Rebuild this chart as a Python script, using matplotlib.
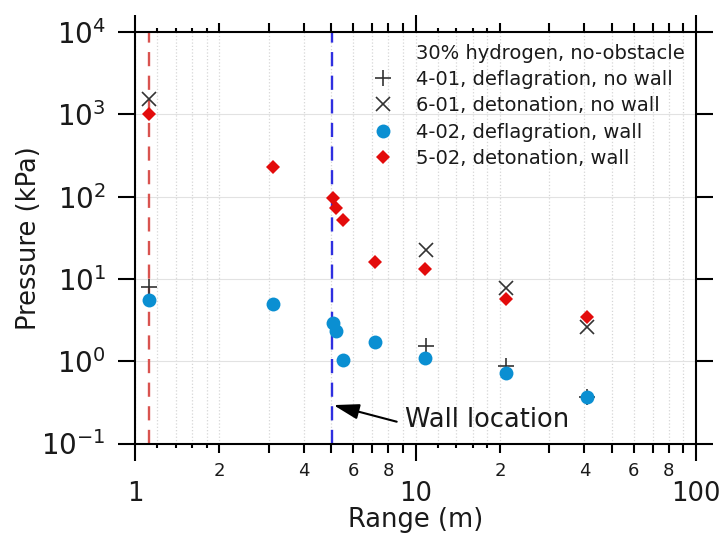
import math
import matplotlib
matplotlib.use("Agg")
import matplotlib.pyplot as plt
from matplotlib.lines import Line2D
from matplotlib.ticker import FixedLocator, FixedFormatter, NullLocator

# ---------------- data ----------------
range_4_01 = [1.12, 10.9, 21.0, 41.0]
press_4_01 = [7.9, 1.53, 0.875, 0.37]

range_6_01 = [1.12, 10.9, 21.0, 41.0]
press_6_01 = [1520, 22.4, 7.7, 2.58]

range_4_02 = [1.12, 3.10, 5.09, 5.19, 5.50, 7.17, 10.8, 21.0, 41.0]
press_4_02 = [5.54, 4.95, 2.94, 2.33, 1.03, 1.73, 1.08, 0.71, 0.364]

range_5_02 = [1.12, 3.10, 5.09, 5.19, 5.53, 7.17, 10.8, 21.0, 41.0]
press_5_02 = [1000, 227, 95.5, 72, 52, 16.2, 13.1, 5.65, 3.41]

red_line_x = 1.122
wall_x = 5.05

legend_title = "30% hydrogen, no-obstacle"
labels = ["4-01, deflagration, no wall", "6-01, detonation, no wall",
          "4-02, deflagration, wall", "5-02, detonation, wall"]

x_major = [1, 10, 100]
x_major_labels = ["1", "10", "100"]
x_minor = [1.2, 1.4, 1.6, 1.8, 2, 3, 4, 5, 6, 7, 8, 9,
           12, 14, 16, 18, 20, 30, 40, 50, 60, 70, 80, 90]
y_major = [0.1, 1, 10, 100, 1000, 10000]
y_labels = [r"$\mathregular{10^{-1}}$", r"$\mathregular{10^{0}}$", r"$\mathregular{10^{1}}$",
            r"$\mathregular{10^{2}}$", r"$\mathregular{10^{3}}$", r"$\mathregular{10^{4}}$"]

# ---------------- figure ----------------
fig = plt.figure(figsize=(7.26, 5.36), dpi=100)
ax = fig.add_axes([0.18595, 0.17257, 0.77273, 0.76772])
ax.set_xscale("log")
ax.set_yscale("log")
ax.set_xlim(1, 100)
ax.set_ylim(0.1, 1e4)

txt = "#1a1a1a"
for s in ax.spines.values():
    s.set_linewidth(1.5)
    s.set_color("black")

# vertical dashed lines
ax.axvline(red_line_x, color="#d9534f", lw=1.7, dashes=(6, 4), zorder=1)
ax.axvline(wall_x, color="#2f2fe0", lw=1.7, dashes=(6, 4), zorder=1)

# marker styles
st_plus = dict(ls="none", marker="+", ms=11, mew=1.2, color="#333333")
st_x = dict(ls="none", marker="x", ms=9.5, mew=1.2, color="#333333")
st_circ = dict(ls="none", marker="o", ms=10, mew=0, color="#0a8fd2")
st_diam = dict(ls="none", marker="D", ms=7.3, mew=0, color="#e30b0b")

# data
ax.plot(range_4_01, press_4_01, zorder=3, **st_plus)
ax.plot(range_6_01, press_6_01, zorder=3, **st_x)
ax.plot(range_4_02, press_4_02, zorder=4, **st_circ)
ax.plot(range_5_02, press_5_02, zorder=5, **st_diam)

# ticks
ax.xaxis.set_major_locator(FixedLocator(x_major))
ax.xaxis.set_major_formatter(FixedFormatter(x_major_labels))
ax.xaxis.set_minor_locator(FixedLocator(x_minor))
minor_lbls = []
for v in x_minor:
    m = v / 10 ** math.floor(math.log10(v) + 1e-9)
    mi = int(round(m))
    minor_lbls.append(str(mi) if abs(m - mi) < 1e-6 and mi in (2, 4, 6, 8) else "")
ax.xaxis.set_minor_formatter(FixedFormatter(minor_lbls))
ax.yaxis.set_major_locator(FixedLocator(y_major))
ax.yaxis.set_major_formatter(FixedFormatter(y_labels))
ax.yaxis.set_minor_locator(NullLocator())

ax.tick_params(which="both", direction="out", top=True, right=True, colors="black", labelcolor=txt, width=1.5)
ax.tick_params(axis="x", which="major", length=12, pad=15, labelsize=18.5)
ax.tick_params(axis="x", which="minor", length=6.5, pad=7, labelsize=13)
ax.tick_params(axis="y", which="major", length=12, pad=9, labelsize=20)

ticks = ax.xaxis.get_minor_ticks(len(x_minor))
for t, v in zip(ticks, x_minor):
    m = v / 10 ** math.floor(math.log10(v) + 1e-9)
    if abs(m - round(m)) > 1e-6:
        t.tick1line.set_markersize(3.2)
        t.tick2line.set_markersize(3.2)

# grid
ax.grid(True, which="both", axis="x", color="#d6d6d6", ls=":", lw=0.9)
ax.grid(True, which="major", axis="y", color="#e2e2e2", ls="-", lw=0.8)
ax.set_axisbelow(True)

# labels
ax.set_xlabel("Range (m)", fontsize=18.5, color=txt)
ax.xaxis.set_label_coords(0.5, -0.155)
ax.xaxis.label.set_va("top")
ax.set_ylabel("Pressure (kPa)", fontsize=18.5, color=txt)
ax.yaxis.set_label_coords(-0.165, 0.5)

# annotation
ax.annotate("", xy=(wall_x * 1.01, 0.293), xytext=(8.57, 0.184),
            arrowprops=dict(arrowstyle="-|>,head_length=0.78,head_width=0.235",
                            mutation_scale=20, color="black", lw=1.5,
                            shrinkA=0, shrinkB=0), zorder=6)
ax.text(9.17, 0.193, "Wall location", fontsize=18.5, color=txt, ha="left", va="center")

# legend
handles = [Line2D([], [], ls="none", marker="none"),
           Line2D([], [], **st_plus),
           Line2D([], [], **st_x),
           Line2D([], [], **st_circ),
           Line2D([], [], **st_diam)]
leg = ax.legend(handles, [legend_title] + labels, loc="upper left",
                bbox_to_anchor=(0.4248, 0.972), frameon=False, fontsize=14,
                borderpad=0, borderaxespad=0, handlelength=1.0, handletextpad=1.2,
                labelspacing=0.38)
for t in leg.get_texts():
    t.set_color(txt)

fig.savefig("out.png", dpi=100)
